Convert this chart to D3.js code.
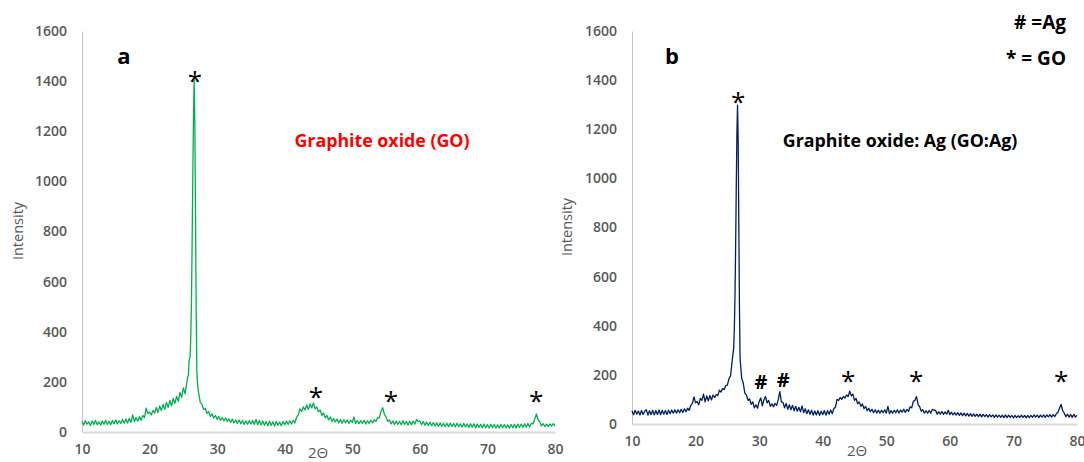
<!DOCTYPE html>
<html>
<head>
<meta charset="utf-8">
<script src="https://cdn.jsdelivr.net/npm/d3@7"></script>
<style>
  body { margin: 0; background: #fff; }
  svg { display: block; }
  text { font-family: "Open Sans", "Liberation Sans", sans-serif; }
</style>
</head>
<body>
<svg id="viz"></svg>
<script>
var width = 1084;
var height = 462;

var yTicks = [0, 200, 400, 600, 800, 1000, 1200, 1400, 1600];
var xTicks = [10, 20, 30, 40, 50, 60, 70, 80];

// [2theta, intensity]
var goPattern = [
  [10,42],[10.25,28],[10.5,45],[10.75,31],[11,40],[11.25,26],[11.5,44],[11.75,30],
  [12,46],[12.25,29],[12.5,41],[12.75,27],[13,44],[13.25,31],[13.5,47],[13.75,30],
  [14,43],[14.25,29],[14.5,46],[14.75,33],[15,48],[15.25,32],[15.5,45],[15.75,34],
  [16,50],[16.25,35],[16.5,52],[16.75,36],[17,54],[17.25,38],[17.5,68],[17.75,42],
  [18,58],[18.25,43],[18.5,62],[18.75,47],[19,66],[19.25,58],[19.5,95],[19.75,74],
  [20,80],[20.25,68],[20.5,86],[20.75,76],[21,98],[21.25,78],[21.5,104],[21.75,86],
  [22,110],[22.25,90],[22.5,118],[22.75,98],[23,126],[23.25,104],[23.5,134],[23.75,114],
  [24,142],[24.25,122],[24.5,158],[24.75,138],[25,176],[25.25,152],[25.5,196],[25.6,212],
  [25.75,228],[25.85,285],[26,300],[26.1,380],[26.2,520],[26.3,760],[26.4,1020],[26.5,1260],
  [26.6,1405],[26.7,1230],[26.8,860],[26.9,480],[27,240],[27.1,190],[27.25,158],[27.5,118],
  [27.75,110],[28,90],[28.25,94],[28.5,74],[28.75,82],[29,62],[29.25,72],[29.5,56],[29.75,66],
  [30,50],[30.25,62],[30.5,46],[30.75,58],[31,44],[31.25,56],[31.5,42],[31.75,52],
  [32,38],[32.25,52],[32.5,36],[32.75,48],[33,34],[33.25,48],[33.5,33],[33.75,46],
  [34,30],[34.25,44],[34.5,31],[34.75,45],[35,32],[35.25,46],[35.5,30],[35.75,50],
  [36,29],[36.25,46],[36.5,28],[36.75,44],[37,27],[37.25,42],[37.5,25],[37.75,43],
  [38,26],[38.25,41],[38.5,24],[38.75,42],[39,27],[39.25,40],[39.5,25],[39.75,42],
  [40,29],[40.25,44],[40.5,30],[40.75,45],[41,32],[41.25,47],[41.5,36],[41.75,58],
  [42,68],[42.25,92],[42.5,82],[42.75,100],[43,88],[43.25,108],[43.5,90],[43.75,112],
  [44,96],[44.25,116],[44.5,92],[44.75,100],[45,80],[45.25,88],[45.5,66],[45.75,76],
  [46,56],[46.25,66],[46.5,48],[46.75,60],[47,42],[47.25,54],[47.5,40],[47.75,52],
  [48,36],[48.25,50],[48.5,35],[48.75,49],[49,36],[49.25,48],[49.5,34],[49.75,47],
  [50,38],[50.25,60],[50.5,34],[50.75,46],[51,33],[51.25,46],[51.5,34],[51.75,47],
  [52,32],[52.25,45],[52.5,34],[52.75,47],[53,36],[53.25,49],[53.5,42],[53.75,58],
  [54,56],[54.25,82],[54.5,97],[54.75,70],[55,60],[55.25,42],[55.5,48],[55.75,32],
  [56,44],[56.25,30],[56.5,44],[56.75,30],[57,43],[57.25,29],[57.5,45],[57.75,30],
  [58,42],[58.25,28],[58.5,43],[58.75,29],[59,44],[59.25,31],[59.5,50],[59.75,42],
  [60,44],[60.25,29],[60.5,42],[60.75,27],[61,40],[61.25,26],[61.5,39],[61.75,25],
  [62,38],[62.25,24],[62.5,37],[62.75,23],[63,36],[63.25,22],[63.5,35],[63.75,21],
  [64,35],[64.25,21],[64.5,36],[64.75,22],[65,34],[65.25,20],[65.5,35],[65.75,21],
  [66,33],[66.25,19],[66.5,34],[66.75,20],[67,32],[67.25,18],[67.5,33],[67.75,19],
  [68,33],[68.25,17],[68.5,32],[68.75,18],[69,31],[69.25,17],[69.5,32],[69.75,16],
  [70,30],[70.25,16],[70.5,31],[70.75,17],[71,30],[71.25,15],[71.5,29],[71.75,16],
  [72,31],[72.25,17],[72.5,30],[72.75,16],[73,29],[73.25,15],[73.5,30],[73.75,17],
  [74,31],[74.25,16],[74.5,32],[74.75,18],[75,32],[75.25,18],[75.5,33],[75.75,19],
  [76,34],[76.25,20],[76.5,35],[76.75,32],[77,52],[77.25,72],[77.5,48],[77.75,40],
  [78,24],[78.25,33],[78.5,22],[78.75,31],[79,22],[79.25,32],[79.5,24],[79.75,33],[80,24]
];

// [2theta, intensity]
var goAgPattern = [
  [10,54],[10.25,38],[10.5,56],[10.75,40],[11,53],[11.25,37],[11.5,55],[11.75,39],
  [12,52],[12.25,58],[12.5,36],[12.75,54],[13,38],[13.25,56],[13.5,37],[13.75,55],
  [14,39],[14.25,57],[14.5,38],[14.75,56],[15,40],[15.25,55],[15.5,39],[15.75,56],
  [16,42],[16.25,57],[16.5,44],[16.75,58],[17,44],[17.25,58],[17.5,46],[17.75,60],
  [18,47],[18.25,62],[18.5,50],[18.75,64],[19,56],[19.25,76],[19.5,84],[19.75,110],
  [20,86],[20.25,92],[20.5,78],[20.75,104],[21,96],[21.25,122],[21.5,90],[21.75,114],
  [22,94],[22.25,116],[22.5,98],[22.75,118],[23,108],[23.25,120],[23.5,116],[23.75,138],
  [24,130],[24.25,144],[24.5,140],[24.75,156],[25,158],[25.25,184],[25.5,196],[25.75,255],
  [26,310],[26.1,390],[26.2,520],[26.3,720],[26.4,960],[26.5,1180],[26.6,1298],[26.7,1160],
  [26.8,820],[26.9,480],[27,270],[27.1,236],[27.25,188],[27.5,166],[27.75,126],
  [28,118],[28.25,96],[28.5,102],[28.75,80],[29,90],[29.25,66],[29.5,78],[29.75,64],
  [30,92],[30.25,106],[30.5,74],[30.75,98],[31,112],[31.25,86],[31.5,96],[31.75,72],
  [32,82],[32.25,70],[32.5,84],[32.75,76],[33,98],[33.25,132],[33.5,90],[33.75,88],
  [34,66],[34.25,84],[34.5,60],[34.75,78],[35,58],[35.25,76],[35.5,54],[35.75,72],
  [36,52],[36.25,68],[36.5,50],[36.75,74],[37,46],[37.25,62],[37.5,42],[37.75,58],
  [38,40],[38.25,56],[38.5,36],[38.75,53],[39,37],[39.25,54],[39.5,35],[39.75,52],
  [40,38],[40.25,55],[40.5,36],[40.75,54],[41,40],[41.25,57],[41.5,42],[41.75,62],
  [42,68],[42.25,100],[42.5,96],[42.75,108],[43,100],[43.25,112],[43.5,106],[43.75,118],
  [44,112],[44.25,134],[44.5,114],[44.75,122],[45,96],[45.25,104],[45.5,82],[45.75,90],
  [46,72],[46.25,82],[46.5,62],[46.75,72],[47,54],[47.25,64],[47.5,50],[47.75,60],
  [48,46],[48.25,58],[48.5,45],[48.75,56],[49,44],[49.25,56],[49.5,46],[49.75,58],
  [50,44],[50.25,72],[50.5,42],[50.75,55],[51,44],[51.25,56],[51.5,46],[51.75,58],
  [52,45],[52.25,57],[52.5,48],[52.75,60],[53,47],[53.25,59],[53.5,52],[53.75,70],
  [54,66],[54.25,92],[54.5,96],[54.75,112],[55,80],[55.25,70],[55.5,52],[55.75,58],
  [56,44],[56.25,54],[56.5,44],[56.75,55],[57,44],[57.25,60],[57.5,56],[57.75,56],
  [58,40],[58.25,50],[58.5,40],[58.75,51],[59,39],[59.25,49],[59.5,40],[59.75,56],
  [60,38],[60.25,48],[60.5,37],[60.75,46],[61,36],[61.25,46],[61.5,35],[61.75,45],
  [62,34],[62.25,44],[62.5,33],[62.75,43],[63,32],[63.25,42],[63.5,31],[63.75,41],
  [64,31],[64.25,40],[64.5,30],[64.75,40],[65,29],[65.25,39],[65.5,30],[65.75,38],
  [66,28],[66.25,38],[66.5,29],[66.75,37],[67,27],[67.25,37],[67.5,28],[67.75,36],
  [68,27],[68.25,36],[68.5,26],[68.75,37],[69,26],[69.25,36],[69.5,27],[69.75,35],
  [70,25],[70.25,35],[70.5,26],[70.75,34],[71,26],[71.25,36],[71.5,27],[71.75,35],
  [72,25],[72.25,35],[72.5,26],[72.75,35],[73,27],[73.25,37],[73.5,28],[73.75,36],
  [74,26],[74.25,36],[74.5,28],[74.75,37],[75,27],[75.25,37],[75.5,29],[75.75,38],
  [76,28],[76.25,38],[76.5,30],[76.75,42],[77,48],[77.25,64],[77.5,80],[77.75,54],
  [78,44],[78.25,30],[78.5,40],[78.75,28],[79,38],[79.25,27],[79.5,39],[79.75,28],[80,36]
];

// peak markers: [2theta, intensity where the symbol sits, symbol]
var goMarks = [[26.7, 1420, "*"], [44.6, 160, "*"], [55.7, 145, "*"], [77.2, 145, "*"]];
var goAgMarks = [[26.7, 1330, "*"], [30.3, 170, "#"], [33.8, 178, "#"],
                 [44.0, 195, "*"], [54.7, 195, "*"], [77.5, 195, "*"]];

var legendLines = ["# =Ag", "* = GO"];

var svg = d3.select("#viz").attr("width", width).attr("height", height);

function drawPanel(p) {
    var x = d3.scaleLinear().domain([10, 80]).range([p.left, p.right]);
    var y = d3.scaleLinear().domain([0, 1600]).range([p.bottom, p.top]);
    var g = svg.append("g");

    var yAxis = g.append("g")
        .attr("transform", "translate(" + p.left + ",0)")
        .call(d3.axisLeft(y).tickValues(yTicks).tickFormat(d3.format("d"))
            .tickSize(0).tickPadding(15).tickSizeOuter(0));
    yAxis.select(".domain").attr("stroke", "#c4c4c4").attr("stroke-width", 1);
    yAxis.selectAll("text")
        .attr("fill", "#595959")
        .style("font-size", "14px")
        .style("font-weight", "600");

    var xAxis = g.append("g")
        .attr("transform", "translate(0," + p.bottom + ")")
        .call(d3.axisBottom(x).tickValues(xTicks).tickFormat(d3.format("d"))
            .tickSize(0).tickPadding(12).tickSizeOuter(0));
    xAxis.select(".domain").attr("stroke", "#d9d9d9").attr("stroke-width", 2);
    xAxis.selectAll("text")
        .attr("fill", "#595959")
        .style("font-size", "14px")
        .style("font-weight", "600");

    var line = d3.line()
        .x(function (d) { return x(d[0]); })
        .y(function (d) { return y(d[1]); });

    g.append("path")
        .datum(p.data)
        .attr("fill", "none")
        .attr("stroke", p.color)
        .attr("stroke-width", 1.3)
        .attr("stroke-linejoin", "round")
        .attr("d", line);

    g.selectAll(".mark")
        .data(p.marks)
        .enter()
        .append("text")
        .attr("class", "mark")
        .attr("x", function (d) { return x(d[0]); })
        .attr("y", function (d) { return y(d[1]) + (d[2] == "*" ? 14 : 7); })
        .attr("text-anchor", "middle")
        .style("font-size", function (d) { return d[2] == "*" ? "26px" : "20px"; })
        .style("font-weight", function (d) { return d[2] == "*" ? "normal" : "bold"; })
        .attr("fill", "#000")
        .text(function (d) { return d[2]; });

    g.append("text")
        .attr("transform", "translate(" + p.ylabelX + "," + p.ylabelY + ") rotate(-90)")
        .attr("text-anchor", "middle")
        .attr("dy", "0.35em")
        .attr("fill", "#595959")
        .style("font-size", "14.5px")
        .text("Intensity");

    g.append("text")
        .attr("x", p.xlabelX)
        .attr("y", p.xlabelY)
        .attr("text-anchor", "middle")
        .attr("fill", "#595959")
        .style("font-size", "15px")
        .text("2\u0398");

    g.append("text")
        .attr("x", p.letterX)
        .attr("y", 64)
        .attr("text-anchor", "middle")
        .attr("fill", "#000")
        .style("font-size", "22px")
        .style("font-weight", "bold")
        .text(p.letter);

    g.append("text")
        .attr("x", p.titleX)
        .attr("y", 147)
        .attr("text-anchor", "middle")
        .attr("fill", p.titleColor)
        .style("font-size", "17.8px")
        .style("font-weight", "bold")
        .text(p.title);
}

drawPanel({
    left: 82, right: 555, top: 31, bottom: 432,
    data: goPattern, color: "#00b050", marks: goMarks,
    ylabelX: 18, ylabelY: 231, xlabelX: 318, xlabelY: 458,
    letter: "a", letterX: 124,
    title: "Graphite oxide (GO)", titleX: 382, titleColor: "#ff0000"
});

drawPanel({
    left: 632, right: 1077, top: 31, bottom: 424,
    data: goAgPattern, color: "#002060", marks: goAgMarks,
    ylabelX: 567, ylabelY: 227, xlabelX: 857, xlabelY: 456,
    letter: "b", letterX: 672,
    title: "Graphite oxide: Ag (GO:Ag)", titleX: 900, titleColor: "#000"
});

svg.selectAll(".legend")
    .data(legendLines)
    .enter()
    .append("text")
    .attr("class", "legend")
    .attr("x", 1066)
    .attr("y", function (d, i) { return 29 + i * 36; })
    .attr("text-anchor", "end")
    .attr("fill", "#000")
    .style("font-size", "19px")
    .style("font-weight", "bold")
    .text(function (d) { return d; });
</script>
</body>
</html>
